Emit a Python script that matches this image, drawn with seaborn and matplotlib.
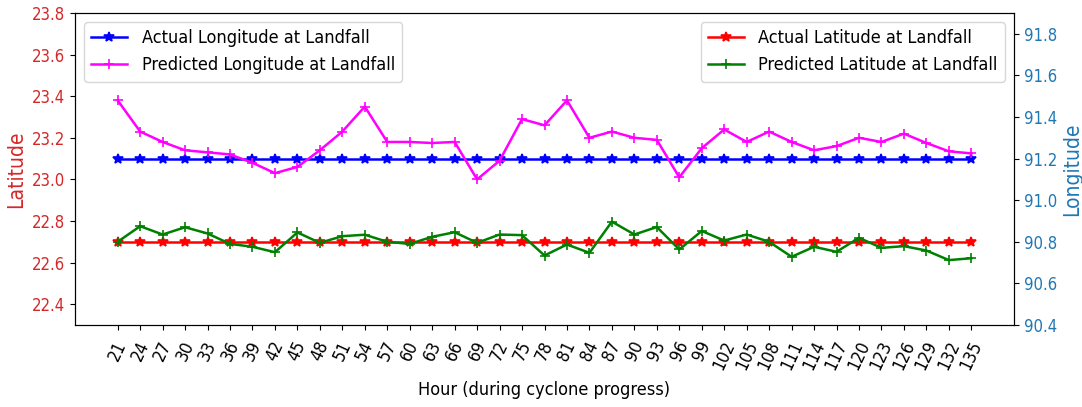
import matplotlib
matplotlib.use("Agg")
import matplotlib.pyplot as plt
import pandas as pd
import seaborn as sns

plt.rcParams["font.family"] = ["DejaVu Sans"]
plt.rcParams["font.stretch"] = "condensed"

hours = [21, 24, 27, 30, 33, 36, 39, 42, 45, 48, 51, 54, 57, 60, 63, 66, 69, 72, 75,
         78, 81, 84, 87, 90, 93, 96, 99, 102, 105, 108, 111, 114, 117, 120, 123, 126,
         129, 132, 135]

actual_lat = [22.70] * 39
pred_lat = [22.700, 22.775, 22.735, 22.770, 22.740, 22.690, 22.676, 22.650, 22.745,
            22.695, 22.727, 22.734, 22.700, 22.690, 22.724, 22.746, 22.695, 22.735,
            22.732, 22.634, 22.687, 22.647, 22.797, 22.735, 22.771, 22.663, 22.752,
            22.706, 22.735, 22.700, 22.628, 22.676, 22.652, 22.719, 22.671, 22.679,
            22.658, 22.612, 22.621]

actual_lon = [91.20] * 39
pred_lon = [91.48, 91.33, 91.28, 91.24, 91.23, 91.22, 91.18, 91.13, 91.16, 91.24,
            91.33, 91.45, 91.28, 91.28, 91.275, 91.28, 91.10, 91.19, 91.39, 91.36,
            91.48, 91.30, 91.33, 91.30, 91.29, 91.11, 91.25, 91.34, 91.28, 91.33,
            91.28, 91.24, 91.26, 91.30, 91.28, 91.32, 91.275, 91.235, 91.225]

lat_ticks = [22.4, 22.6, 22.8, 23.0, 23.2, 23.4, 23.6, 23.8]
lon_ticks = [90.4, 90.6, 90.8, 91.0, 91.2, 91.4, 91.6, 91.8]

df = pd.DataFrame({
    "hour": hours,
    "actual_lat": actual_lat,
    "pred_lat": pred_lat,
    "actual_lon": actual_lon,
    "pred_lon": pred_lon,
})

fig, ax1 = plt.subplots(figsize=(10.82, 4.07), dpi=100)
fig.subplots_adjust(left=75 / 1082, right=1014 / 1082, top=1 - 13 / 407, bottom=1 - 325 / 407)
ax2 = ax1.twinx()

line_kw = dict(linewidth=1.8, markersize=7, markeredgewidth=1.2)

sns.lineplot(data=df, x="hour", y="actual_lat", ax=ax1, color="red", marker="*",
             markeredgecolor="red", label="Actual Latitude at Landfall", **line_kw)
sns.lineplot(data=df, x="hour", y="pred_lat", ax=ax1, color="green", marker="+",
             markeredgecolor="green", label="Predicted Latitude at Landfall", **line_kw)
sns.lineplot(data=df, x="hour", y="actual_lon", ax=ax2, color="blue", marker="*",
             markeredgecolor="blue", label="Actual Longitude at Landfall", **line_kw)
sns.lineplot(data=df, x="hour", y="pred_lon", ax=ax2, color="magenta", marker="+",
             markeredgecolor="magenta", label="Predicted Longitude at Landfall", **line_kw)

ax1.set_ylim(22.3, 23.8)
ax1.set_yticks(lat_ticks)
ax2.set_ylim(90.4, 91.9)
ax2.set_yticks(lon_ticks)

ax1.set_xticks(hours)
ax1.set_xticklabels([str(h) for h in hours], rotation=65, fontsize=12.5)
ax1.tick_params(axis="x", pad=6)
ax1.set_xlabel("Hour (during cyclone progress)", fontsize=13, labelpad=6)
ax1.set_ylabel("Latitude", color="tab:red", fontsize=15)
ax2.set_ylabel("Longitude", color="tab:blue", fontsize=15)
ax1.tick_params(axis="y", labelcolor="tab:red", labelsize=12)
ax2.tick_params(axis="y", labelcolor="tab:blue", labelsize=12)

ax1.legend(loc="upper right", fontsize=13)
ax2.legend(loc="upper left", fontsize=13)

fig.savefig("out.png", dpi=100)
